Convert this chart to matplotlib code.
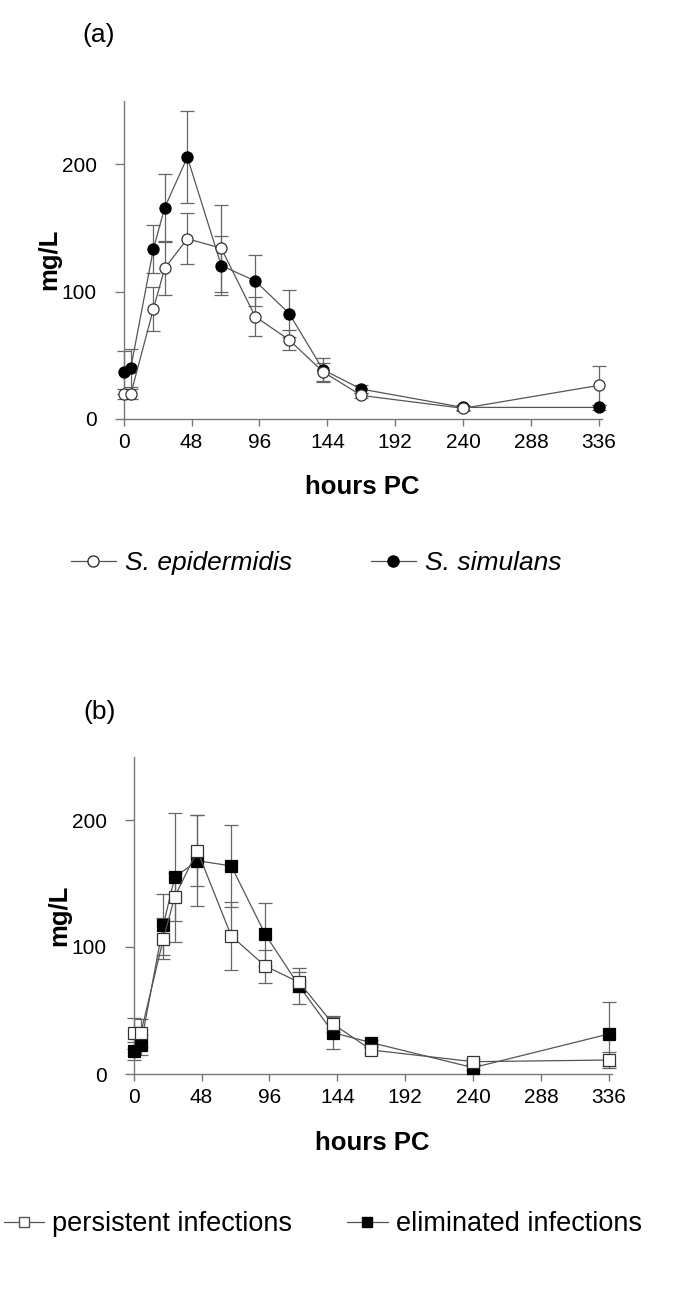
import matplotlib
matplotlib.use("Agg")
import matplotlib.pyplot as plt
from matplotlib.lines import Line2D

plt.rcParams['font.family'] = ['Liberation Sans', 'DejaVu Sans']

# ---------------- data ----------------
hours = [0, 5, 21, 29, 45, 69, 93, 117, 141, 168, 240, 336]
x_ticks = [0, 48, 96, 144, 192, 240, 288, 336]
y_ticks = [0, 100, 200]

# panel (a)
simulans = [36.6, 40, 133.4, 166, 205.5, 120.4, 108.4, 82.8, 38.6, 23.5, 9.1, 9.1]
simulans_err = [17, 15, 19, 26, 36, 23, 20, 18.5, 9.5, 3, 2, 2]
epidermidis = [19.6, 19.6, 86.4, 118.3, 141.5, 134, 80.4, 62.1, 37, 18.5, 8.4, 26.4]
epidermidis_err = [4, 4, 17.5, 21, 20, 34, 15, 8, 7, 2, 2, 15.4]

# panel (b)
eliminated = [18.1, 22.8, 117.6, 154.9, 168, 163.8, 110, 69.3, 32.5, 24.7, 5, 31.5]
eliminated_err = [7, 8, 24, 51, 36, 32, 25, 14, 12.5, 2, 2, 25.5]
persistent = [32, 32, 106.6, 139.6, 175.9, 108.7, 85, 72.2, 39.4, 18.9, 9.7, 11]
persistent_err = [12, 11, 16, 19, 28, 27, 13, 8, 6, 2, 2, 6]

W, H = 685, 1292
fig = plt.figure(figsize=(W / 100, H / 100), dpi=100)

LINE_C = '#555555'
ERR_C = '#666666'
SPINE_C = '#777777'


def style_axes(ax):
    ax.set_xlim(0, 338)
    ax.set_ylim(0, 250)
    for s in ['top', 'right']:
        ax.spines[s].set_visible(False)
    for s in ['left', 'bottom']:
        ax.spines[s].set_color(SPINE_C)
        ax.spines[s].set_linewidth(1.0)
    ax.set_xticks(x_ticks)
    ax.set_yticks(y_ticks)
    ax.tick_params(axis='x', direction='out', length=5, width=1, color=SPINE_C,
                   labelsize=15, pad=5)
    ax.tick_params(axis='y', direction='out', length=6.5, width=1, color=SPINE_C,
                   labelsize=15, pad=13)
    ax.set_xlabel('hours PC', fontsize=18.5, fontweight='bold', labelpad=17)
    ax.set_ylabel('mg/L', fontsize=18.5, fontweight='bold', labelpad=0)


def series(ax, y, err, marker, face, ms):
    ax.errorbar(hours, y, yerr=err, fmt='none', ecolor=ERR_C, elinewidth=0.9,
                capsize=5, capthick=0.9, clip_on=False, zorder=2)
    ax.plot(hours, y, color=LINE_C, lw=0.9, marker=marker, markersize=ms,
            markerfacecolor=face, markeredgecolor='#333333' if face == 'white' else 'black',
            markeredgewidth=0.9, clip_on=False, zorder=3)


# ---------------- panel (a) ----------------
axa = fig.add_axes([123.7 / W, 1 - 419 / H, 478 / W, 318.5 / H])
style_axes(axa)
series(axa, simulans, simulans_err, 'o', 'black', 8)
series(axa, epidermidis, epidermidis_err, 'o', 'white', 8)
fig.text(99 / W, 1 - 35 / H, '(a)', fontsize=19, ha='center', va='center')

h1 = Line2D([], [], color=LINE_C, lw=0.9, marker='o', markersize=8,
            markerfacecolor='white', markeredgecolor='#333333')
h2 = Line2D([], [], color=LINE_C, lw=0.9, marker='o', markersize=8,
            markerfacecolor='black', markeredgecolor='black')
for h, lab, x0 in [(h1, 'S. epidermidis', 70.8), (h2, 'S. simulans', 371)]:
    fig.legend([h], [lab], loc='center left', bbox_to_anchor=(x0 / W, 1 - 563 / H),
               frameon=False, borderpad=0, borderaxespad=0, handlelength=1.7,
               handletextpad=0.35, prop={'size': 19, 'style': 'italic'})

# ---------------- panel (b) ----------------
axb = fig.add_axes([133.7 / W, 1 - 1074 / H, 478 / W, 317.5 / H])
style_axes(axb)
series(axb, eliminated, eliminated_err, 's', 'black', 8.5)
series(axb, persistent, persistent_err, 's', 'white', 8.5)
fig.text(100 / W, 1 - 712 / H, '(b)', fontsize=19, ha='center', va='center')

h3 = Line2D([], [], color=LINE_C, lw=0.9, marker='s', markersize=7,
            markerfacecolor='white', markeredgecolor='#555555')
h4 = Line2D([], [], color=LINE_C, lw=0.9, marker='s', markersize=7,
            markerfacecolor='black', markeredgecolor='black')
for h, lab, x0 in [(h3, 'persistent infections', 3.5), (h4, 'eliminated infections', 347)]:
    fig.legend([h], [lab], loc='center left', bbox_to_anchor=(x0 / W, 1 - 1224 / H),
               frameon=False, borderpad=0, borderaxespad=0, handlelength=1.5,
               handletextpad=0.3, prop={'size': 19.5})

fig.savefig('out.png', dpi=100)
